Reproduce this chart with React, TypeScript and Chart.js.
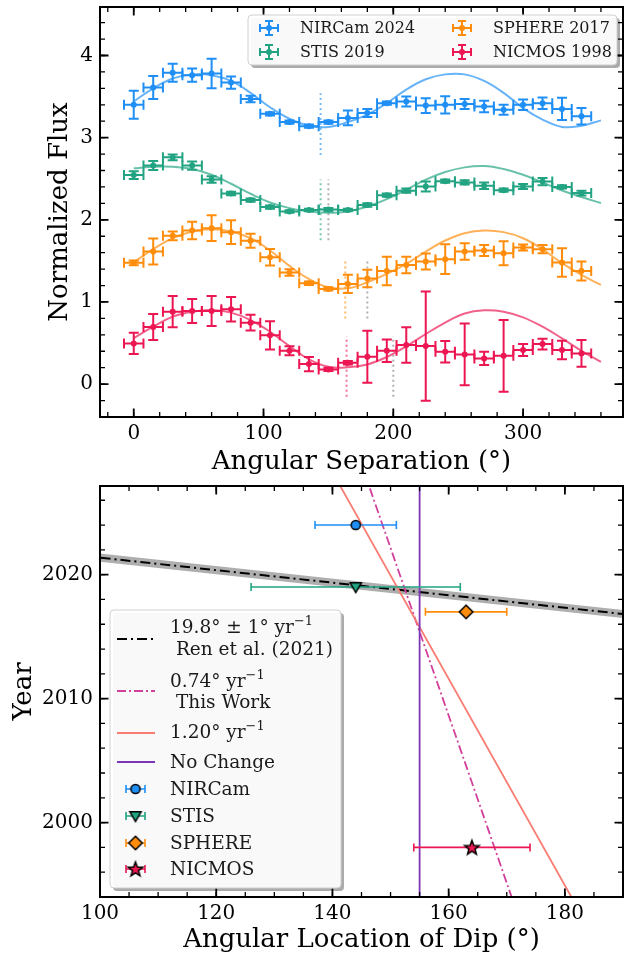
import React, { useEffect, useRef } from 'react';
import { Chart, registerables } from 'chart.js';

Chart.register(...registerables);

const SERIF = '"DejaVu Serif", "Liberation Serif", serif';

// ---------- Upper panel: azimuthal flux profiles ----------
const angles = [0, 15, 30, 45, 60, 75, 90, 105, 120, 135, 150, 165, 180, 195, 210, 225, 240, 255, 270, 285, 300, 315, 330, 345];
const binHalfWidth = 7.5;

const nircamFlux = [3.40, 3.61, 3.79, 3.76, 3.78, 3.67, 3.47, 3.29, 3.19, 3.14, 3.19, 3.24, 3.30, 3.42, 3.44, 3.39, 3.40, 3.41, 3.38, 3.34, 3.40, 3.42, 3.35, 3.26];
const nircamErr = [0.17, 0.14, 0.11, 0.08, 0.18, 0.075, 0.04, 0.02, 0.02, 0.02, 0.02, 0.09, 0.05, 0.02, 0.06, 0.09, 0.105, 0.06, 0.07, 0.06, 0.065, 0.07, 0.135, 0.10];

const stisFlux = [2.545, 2.66, 2.76, 2.66, 2.49, 2.32, 2.24, 2.155, 2.10, 2.12, 2.125, 2.12, 2.18, 2.30, 2.355, 2.405, 2.47, 2.455, 2.415, 2.36, 2.405, 2.465, 2.40, 2.325];
const stisErr = [0.047, 0.055, 0.035, 0.05, 0.04, 0.02, 0.02, 0.02, 0.015, 0.015, 0.02, 0.015, 0.02, 0.02, 0.025, 0.06, 0.02, 0.025, 0.04, 0.02, 0.03, 0.045, 0.02, 0.03];

const sphereFlux = [1.476, 1.614, 1.805, 1.87, 1.898, 1.85, 1.744, 1.545, 1.358, 1.228, 1.159, 1.22, 1.285, 1.378, 1.451, 1.492, 1.52, 1.614, 1.626, 1.593, 1.662, 1.642, 1.48, 1.378];
const sphereErr = [0.03, 0.157, 0.053, 0.106, 0.157, 0.144, 0.085, 0.10, 0.04, 0.02, 0.02, 0.11, 0.106, 0.173, 0.10, 0.098, 0.181, 0.10, 0.067, 0.146, 0.037, 0.05, 0.173, 0.116];

const nicmosFlux = [0.496, 0.695, 0.882, 0.89, 0.89, 0.911, 0.748, 0.594, 0.406, 0.244, 0.179, 0.26, 0.333, 0.406, 0.476, 0.463, 0.394, 0.362, 0.313, 0.345, 0.415, 0.488, 0.415, 0.374];
const nicmosErr = [0.13, 0.159, 0.191, 0.146, 0.183, 0.148, 0.096, 0.171, 0.055, 0.087, 0.02, 0.022, 0.317, 0.138, 0.217, 0.665, 0.132, 0.376, 0.081, 0.437, 0.073, 0.065, 0.112, 0.163];

// best-fit model profiles, sampled every 15 degrees
const modelAngles = [0, 15, 30, 45, 60, 75, 90, 105, 120, 135, 150, 165, 180, 195, 210, 225, 240, 255, 270, 285, 300, 315, 330, 345, 360];
const nircamModel = [3.44, 3.60, 3.72, 3.77, 3.76, 3.69, 3.545, 3.37, 3.23, 3.145, 3.13, 3.19, 3.28, 3.42, 3.585, 3.71, 3.77, 3.77, 3.69, 3.545, 3.36, 3.22, 3.13, 3.145, 3.21];
const stisModel = [2.626, 2.646, 2.646, 2.618, 2.549, 2.439, 2.317, 2.211, 2.142, 2.101, 2.085, 2.101, 2.163, 2.252, 2.366, 2.488, 2.581, 2.638, 2.654, 2.618, 2.549, 2.455, 2.357, 2.277, 2.204];
const sphereModel = [1.484, 1.642, 1.776, 1.858, 1.886, 1.858, 1.776, 1.626, 1.439, 1.28, 1.179, 1.167, 1.24, 1.341, 1.463, 1.614, 1.748, 1.837, 1.87, 1.85, 1.776, 1.642, 1.472, 1.329, 1.207];
const nicmosModel = [0.561, 0.699, 0.821, 0.882, 0.902, 0.87, 0.78, 0.638, 0.463, 0.301, 0.211, 0.205, 0.24, 0.33, 0.46, 0.61, 0.75, 0.86, 0.899, 0.882, 0.813, 0.699, 0.557, 0.406, 0.272];

// measured dip location (coloured) and comparison location (grey), with the flux span of each marker
const dipMeasured = [144, 144, 163, 164];
const dipCompared = [null, 150, 180, 200];
const dipSpanLow = [2.79, 1.75, 0.80, -0.155];
const dipSpanHigh = [3.54, 2.49, 1.53, 0.58];

const topXMajor = [0, 100, 200, 300];
const topYMajor = [0, 1, 2, 3, 4];

// ---------- Lower panel: dip location through time ----------
const instruments = ['NIRCam', 'STIS', 'SPHERE', 'NICMOS'];
const dipAngle = [144, 144, 163, 164];
const dipAngleErr = [7, 18, 7, 10];
const obsYear = [2024, 2019, 2017, 1998];

const renRate = 19.8; // deg / yr
const renAnchor = { angle: 144, year: 2019.15 };
const thisWorkRate = 0.74;
const thisWorkAnchor = { angle: 158.55, year: 2010.6 };
const fastRate = 1.2;
const fastAnchor = { angle: 161.2, year: 2010.6 };
const noChangeAngle = 155;
const lineYears = [1990, 2030];

const botXMajor = [100, 120, 140, 160, 180];
const botYMajor = [2000, 2010, 2020];

const C = {
  nircam: '#1f8ff5',
  stis: '#22a382',
  sphere: '#ff8c0a',
  nicmos: '#eb1652',
};

function range(a: number, b: number, step: number) {
  const out: number[] = [];
  for (let v = a; v <= b + 1e-9; v += step) out.push(Math.round(v * 1000) / 1000);
  return out;
}

function alpha(hex: string, a: number) {
  const n = parseInt(hex.slice(1), 16);
  return `rgba(${(n >> 16) & 255},${(n >> 8) & 255},${n & 255},${a})`;
}

// ---------- plugins ----------
const errorBarPlugin = {
  id: 'errorBars',
  beforeDatasetDraw(chart: any, args: any) {
    const ds = chart.data.datasets[args.index];
    if (!ds.errX && !ds.errY) return;
    const xs = chart.scales.x;
    const ys = chart.scales.y;
    const ctx = chart.ctx;
    const cap = ds.capSize || 4;
    ctx.save();
    ctx.strokeStyle = ds.errColor;
    ctx.lineWidth = ds.errWidth || 1.5;
    ctx.lineCap = 'butt';
    ds.data.forEach((p: any, i: number) => {
      const px = xs.getPixelForValue(p.x);
      const py = ys.getPixelForValue(p.y);
      ctx.beginPath();
      if (ds.errX) {
        const e = ds.errX[i];
        const l = xs.getPixelForValue(p.x - e);
        const r = xs.getPixelForValue(p.x + e);
        ctx.moveTo(l, py); ctx.lineTo(r, py);
        ctx.moveTo(l, py - cap); ctx.lineTo(l, py + cap);
        ctx.moveTo(r, py - cap); ctx.lineTo(r, py + cap);
      }
      if (ds.errY) {
        const e = ds.errY[i];
        const t = ys.getPixelForValue(p.y + e);
        const b = ys.getPixelForValue(p.y - e);
        ctx.moveTo(px, t); ctx.lineTo(px, b);
        ctx.moveTo(px - cap, t); ctx.lineTo(px + cap, t);
        ctx.moveTo(px - cap, b); ctx.lineTo(px + cap, b);
      }
      ctx.stroke();
    });
    ctx.restore();
  },
};

const framePlugin = {
  id: 'frame',
  afterDatasetsDraw(chart: any, _args: any, opts: any) {
    const { ctx, chartArea } = chart;
    const { left, right, top, bottom } = chartArea;
    const xs = chart.scales.x;
    const ys = chart.scales.y;
    ctx.save();
    ctx.strokeStyle = '#000';
    const drawX = (vals: number[], len: number, lw: number) => {
      ctx.lineWidth = lw;
      ctx.beginPath();
      vals.forEach((v) => {
        const p = xs.getPixelForValue(v);
        if (p < left - 0.5 || p > right + 0.5) return;
        ctx.moveTo(p, bottom); ctx.lineTo(p, bottom - len);
        ctx.moveTo(p, top); ctx.lineTo(p, top + len);
      });
      ctx.stroke();
    };
    const drawY = (vals: number[], len: number, lw: number) => {
      ctx.lineWidth = lw;
      ctx.beginPath();
      vals.forEach((v) => {
        const p = ys.getPixelForValue(v);
        if (p < top - 0.5 || p > bottom + 0.5) return;
        ctx.moveTo(left, p); ctx.lineTo(left + len, p);
        ctx.moveTo(right, p); ctx.lineTo(right - len, p);
      });
      ctx.stroke();
    };
    drawX(opts.xMinor, 5, 1.3);
    drawX(opts.xMajor, 8.5, 1.8);
    drawY(opts.yMinor, 5, 1.3);
    drawY(opts.yMajor, 8.5, 1.8);
    ctx.lineWidth = 2;
    ctx.strokeRect(left, top, right - left, bottom - top);
    ctx.restore();
  },
};

function roundRectPath(ctx: CanvasRenderingContext2D, x: number, y: number, w: number, h: number, r: number) {
  ctx.beginPath();
  ctx.moveTo(x + r, y);
  ctx.lineTo(x + w - r, y);
  ctx.quadraticCurveTo(x + w, y, x + w, y + r);
  ctx.lineTo(x + w, y + h - r);
  ctx.quadraticCurveTo(x + w, y + h, x + w - r, y + h);
  ctx.lineTo(x + r, y + h);
  ctx.quadraticCurveTo(x, y + h, x, y + h - r);
  ctx.lineTo(x, y + r);
  ctx.quadraticCurveTo(x, y, x + r, y);
  ctx.closePath();
}

function legendBox(ctx: CanvasRenderingContext2D, x: number, y: number, w: number, h: number) {
  ctx.save();
  roundRectPath(ctx, x + 3, y + 3, w, h, 4);
  ctx.fillStyle = 'rgba(0,0,0,0.33)';
  ctx.fill();
  roundRectPath(ctx, x, y, w, h, 4);
  ctx.fillStyle = 'rgba(255,255,255,0.92)';
  ctx.fill();
  ctx.strokeStyle = '#d0d0d0';
  ctx.lineWidth = 1;
  ctx.stroke();
  ctx.restore();
}

type Part = [string, boolean];
function drawParts(ctx: CanvasRenderingContext2D, parts: Part[], x: number, y: number, size: number) {
  let cx = x;
  for (const [t, sup] of parts) {
    const s = sup ? size * 0.7 : size;
    ctx.font = `${s}px ${SERIF}`;
    ctx.fillText(t, cx, sup ? y - size * 0.33 : y);
    cx += ctx.measureText(t).width;
  }
}

// marker glyphs for the lower panel
function makeMarker(kind: string, color: string) {
  const c = document.createElement('canvas');
  c.width = 20; c.height = 20;
  const g = c.getContext('2d')!;
  const cx = 10, cy = 10;
  g.beginPath();
  if (kind === 'circle') {
    g.arc(cx, cy, 4.6, 0, Math.PI * 2);
  } else if (kind === 'triangle') {
    g.moveTo(cx - 5.6, cy - 4.2);
    g.lineTo(cx + 5.6, cy - 4.2);
    g.lineTo(cx, cy + 5.6);
    g.closePath();
  } else if (kind === 'diamond') {
    g.moveTo(cx, cy - 6.8);
    g.lineTo(cx + 6.8, cy);
    g.lineTo(cx, cy + 6.8);
    g.lineTo(cx - 6.8, cy);
    g.closePath();
  } else {
    for (let k = 0; k < 10; k++) {
      const r = k % 2 === 0 ? 7.6 : 3.2;
      const a = -Math.PI / 2 + (k * Math.PI) / 5;
      const px = cx + r * Math.cos(a);
      const py = cy + 0.6 + r * Math.sin(a);
      if (k === 0) g.moveTo(px, py); else g.lineTo(px, py);
    }
    g.closePath();
  }
  g.fillStyle = color;
  g.fill();
  g.lineWidth = 1.5;
  g.strokeStyle = '#000';
  g.lineJoin = 'miter';
  g.stroke();
  return c;
}

// fixed-size axis box; label paddings cleared so the plot area sits where the layout puts it
function fixBox(prop: 'width' | 'height', size: number) {
  return (s: any) => {
    s[prop] = size;
    s.paddingTop = 0;
    s.paddingBottom = 0;
    s.paddingLeft = 0;
    s.paddingRight = 0;
  };
}

function scaleBase(min: number, max: number, major: number[], size: number, pad: number) {
  return {
    type: 'linear',
    min,
    max,
    afterBuildTicks: (s: any) => { s.ticks = major.map((v) => ({ value: v })); },
    grid: { display: false, drawTicks: false },
    border: { display: false },
    ticks: {
      font: { size, family: SERIF },
      color: '#000',
      padding: pad,
      maxRotation: 0,
      autoSkip: false,
      callback: (v: any) => String(v),
    },
  };
}

// ---------- chart configs ----------
function topConfig() {
  const pointSet = (label: string, ys: number[], errs: number[], color: string) => ({
    label,
    data: angles.map((a, i) => ({ x: a, y: ys[i] })),
    backgroundColor: color,
    borderColor: color,
    pointRadius: 3,
    pointBorderWidth: 0,
    showLine: false,
    errX: angles.map(() => binHalfWidth),
    errY: errs,
    errColor: color,
    errWidth: 2,
    capSize: 5,
  });
  const curve = (ys: number[], color: string) => ({
    data: modelAngles.map((a, i) => ({ x: a, y: ys[i] })),
    showLine: true,
    borderColor: alpha(color, 0.68),
    borderWidth: 2,
    pointRadius: 0,
    tension: 0.4,
    fill: false,
  });
  const colors = [C.nircam, C.stis, C.sphere, C.nicmos];
  const dips: any[] = [];
  dipMeasured.forEach((d, i) => {
    const cmp = dipCompared[i];
    if (cmp !== null) {
      dips.push({
        data: [{ x: cmp, y: dipSpanLow[i] }, { x: cmp, y: dipSpanHigh[i] }],
        showLine: true, borderColor: 'rgba(150,150,150,0.75)', borderWidth: 2,
        borderDash: [2, 3], pointRadius: 0,
      });
    }
    dips.push({
      data: [{ x: d, y: dipSpanLow[i] }, { x: d, y: dipSpanHigh[i] }],
      showLine: true, borderColor: alpha(colors[i], 0.6), borderWidth: 2,
      borderDash: [2, 3], pointRadius: 0,
    });
  });

  const legendPlugin = {
    id: 'topLegend',
    afterDraw(chart: any) {
      const ctx: CanvasRenderingContext2D = chart.ctx;
      legendBox(ctx, 248, 15, 369, 50);
      const entries = [
        { text: 'NIRCam 2024', color: C.nircam, x: 269, y: 28 },
        { text: 'STIS 2019', color: C.stis, x: 269, y: 52 },
        { text: 'SPHERE 2017', color: C.sphere, x: 462, y: 28 },
        { text: 'NICMOS 1998', color: C.nicmos, x: 462, y: 52 },
      ];
      ctx.save();
      entries.forEach((e) => {
        ctx.strokeStyle = e.color;
        ctx.fillStyle = e.color;
        ctx.lineWidth = 2;
        ctx.beginPath();
        ctx.moveTo(e.x - 9, e.y); ctx.lineTo(e.x + 9, e.y);
        ctx.moveTo(e.x - 9, e.y - 4); ctx.lineTo(e.x - 9, e.y + 4);
        ctx.moveTo(e.x + 9, e.y - 4); ctx.lineTo(e.x + 9, e.y + 4);
        ctx.moveTo(e.x, e.y - 7); ctx.lineTo(e.x, e.y + 7);
        ctx.moveTo(e.x - 4, e.y - 7); ctx.lineTo(e.x + 4, e.y - 7);
        ctx.moveTo(e.x - 4, e.y + 7); ctx.lineTo(e.x + 4, e.y + 7);
        ctx.stroke();
        ctx.beginPath();
        ctx.arc(e.x, e.y, 3, 0, Math.PI * 2);
        ctx.fill();
        ctx.fillStyle = '#1a1a1a';
        ctx.textBaseline = 'middle';
        ctx.textAlign = 'left';
        ctx.font = `16px ${SERIF}`;
        ctx.fillText(e.text, e.x + 31, e.y + 1);
      });
      ctx.restore();
    },
  };

  return {
    type: 'scatter',
    data: {
      datasets: [
        pointSet('NIRCam 2024', nircamFlux, nircamErr, C.nircam),
        pointSet('STIS 2019', stisFlux, stisErr, C.stis),
        pointSet('SPHERE 2017', sphereFlux, sphereErr, C.sphere),
        pointSet('NICMOS 1998', nicmosFlux, nicmosErr, C.nicmos),
        curve(nircamModel, C.nircam),
        curve(stisModel, C.stis),
        curve(sphereModel, C.sphere),
        curve(nicmosModel, C.nicmos),
        ...dips,
      ],
    },
    options: {
      responsive: false,
      animation: false,
      devicePixelRatio: 1,
      events: [],
      layout: { autoPadding: false, padding: { top: 7, right: 1, bottom: 0, left: 0 } },
      plugins: {
        legend: { display: false },
        tooltip: { enabled: false },
        frame: {
          xMajor: topXMajor,
          xMinor: range(-20, 360, 20),
          yMajor: topYMajor,
          yMinor: range(-0.2, 4.4, 0.2),
        },
      },
      scales: {
        x: {
          ...scaleBase(-26, 377, topXMajor, 20, 5),
          afterFit: fixBox('height', 61),
          title: {
            display: true, text: 'Angular Separation (°)', color: '#000',
            font: { size: 26, family: SERIF }, padding: { top: 0, bottom: 0 },
          },
        },
        y: {
          ...scaleBase(-0.4, 4.59, topYMajor, 20, 7),
          afterFit: fixBox('width', 100),
          title: {
            display: true, text: 'Normalized Flux', color: '#000',
            font: { size: 26, family: SERIF }, padding: { top: 45, bottom: 0 },
          },
        },
      },
    },
    plugins: [errorBarPlugin, framePlugin, legendPlugin],
  };
}

function bottomConfig() {
  const colors = [C.nircam, C.stis, C.sphere, C.nicmos];
  const kinds = ['circle', 'triangle', 'diamond', 'star'];
  const markers = kinds.map((k, i) => makeMarker(k, colors[i]));
  const markerSets = instruments.map((name, i) => ({
    label: name,
    data: [{ x: dipAngle[i], y: obsYear[i] }],
    pointStyle: markers[i],
    pointRadius: 8,
    showLine: false,
    errX: [dipAngleErr[i]],
    errColor: colors[i],
    errWidth: 1.6,
    capSize: 4,
  }));
  const rateLine = (rate: number, anchor: { angle: number; year: number }, extra: any) => ({
    data: lineYears.map((yr) => ({ x: anchor.angle - rate * (yr - anchor.year), y: yr })),
    showLine: true,
    pointRadius: 0,
    fill: false,
    ...extra,
  });
  const lineSets = [
    {
      data: lineYears.map((yr) => ({ x: noChangeAngle, y: yr })),
      showLine: true, pointRadius: 0, borderColor: '#7d35b8', borderWidth: 1.8,
    },
    rateLine(fastRate, fastAnchor, { borderColor: '#f97c72', borderWidth: 1.8 }),
    rateLine(thisWorkRate, thisWorkAnchor, { borderColor: '#d2409c', borderWidth: 1.8, borderDash: [9, 3, 2, 3] }),
    rateLine(renRate, renAnchor, { borderColor: '#000', borderWidth: 2, borderDash: [10, 4, 2, 4] }),
    rateLine(renRate, renAnchor, { borderColor: 'rgba(140,140,140,0.7)', borderWidth: 8 }),
  ];

  const legendPlugin = {
    id: 'botLegend',
    afterDraw(chart: any) {
      const ctx: CanvasRenderingContext2D = chart.ctx;
      legendBox(ctx, 110, 132, 231, 278);
      const size = 18.5;
      ctx.save();
      ctx.textBaseline = 'middle';
      ctx.textAlign = 'left';
      ctx.fillStyle = '#1a1a1a';
      const tx = 170;
      const line = (y: number, color: string, dash: number[]) => {
        ctx.save();
        ctx.strokeStyle = color;
        ctx.lineWidth = 2;
        ctx.setLineDash(dash);
        ctx.beginPath();
        ctx.moveTo(117, y); ctx.lineTo(155, y);
        ctx.stroke();
        ctx.restore();
      };
      line(161, '#000', [10, 4, 2, 4]);
      drawParts(ctx, [['19.8° ± 1° yr', false], ['−1', true]], tx, 150, size);
      drawParts(ctx, [[' Ren et al. (2021)', false]], tx, 172, size);
      line(213, '#d2409c', [9, 3, 2, 3]);
      drawParts(ctx, [['0.74° yr', false], ['−1', true]], tx, 204, size);
      drawParts(ctx, [[' This Work', false]], tx, 225, size);
      line(255, '#f97c72', []);
      drawParts(ctx, [['1.20° yr', false], ['−1', true]], tx, 255, size);
      line(284, '#7d35b8', []);
      drawParts(ctx, [['No Change', false]], tx, 285, size);
      const rows = [311, 338, 365, 391];
      instruments.forEach((name, i) => {
        const y = rows[i];
        ctx.save();
        ctx.strokeStyle = colors[i];
        ctx.lineWidth = 1.6;
        ctx.beginPath();
        ctx.moveTo(126, y); ctx.lineTo(145, y);
        ctx.moveTo(126, y - 4); ctx.lineTo(126, y + 4);
        ctx.moveTo(145, y - 4); ctx.lineTo(145, y + 4);
        ctx.stroke();
        ctx.drawImage(markers[i], 135.5 - 10, y - 10);
        ctx.restore();
        drawParts(ctx, [[name, false]], tx, y + 1, size);
      });
      ctx.restore();
    },
  };

  return {
    type: 'scatter',
    data: { datasets: [...markerSets, ...lineSets] },
    options: {
      responsive: false,
      animation: false,
      devicePixelRatio: 1,
      events: [],
      layout: { autoPadding: false, padding: { top: 8, right: 1, bottom: 0, left: 0 } },
      plugins: {
        legend: { display: false },
        tooltip: { enabled: false },
        frame: {
          xMajor: botXMajor,
          xMinor: range(105, 185, 5),
          yMajor: botYMajor,
          yMinor: range(1996, 2026, 2),
        },
      },
      scales: {
        x: {
          ...scaleBase(100, 190, botXMajor, 20, 5),
          afterFit: fixBox('height', 59),
          title: {
            display: true, text: 'Angular Location of Dip (°)', color: '#000',
            font: { size: 26, family: SERIF }, padding: { top: 0, bottom: 0 },
          },
        },
        y: {
          ...scaleBase(1994.0, 2027.15, botYMajor, 20, 7),
          afterFit: fixBox('width', 100),
          title: {
            display: true, text: 'Year', color: '#000',
            font: { size: 26, family: SERIF }, padding: { top: 9, bottom: 0 },
          },
        },
      },
    },
    plugins: [errorBarPlugin, framePlugin, legendPlugin],
  };
}

export default function App() {
  const topRef = useRef<HTMLCanvasElement>(null);
  const botRef = useRef<HTMLCanvasElement>(null);
  useEffect(() => {
    const top = new Chart(topRef.current as HTMLCanvasElement, topConfig() as any);
    const bot = new Chart(botRef.current as HTMLCanvasElement, bottomConfig() as any);
    return () => {
      top.destroy();
      bot.destroy();
    };
  }, []);
  return (
    <div style={{ position: 'absolute', left: 0, top: 0, width: 624, height: 956, background: '#fff' }}>
      <canvas ref={topRef} width={624} height={478} style={{ position: 'absolute', left: 0, top: 0 }} />
      <canvas ref={botRef} width={624} height={478} style={{ position: 'absolute', left: 0, top: 478 }} />
    </div>
  );
}
